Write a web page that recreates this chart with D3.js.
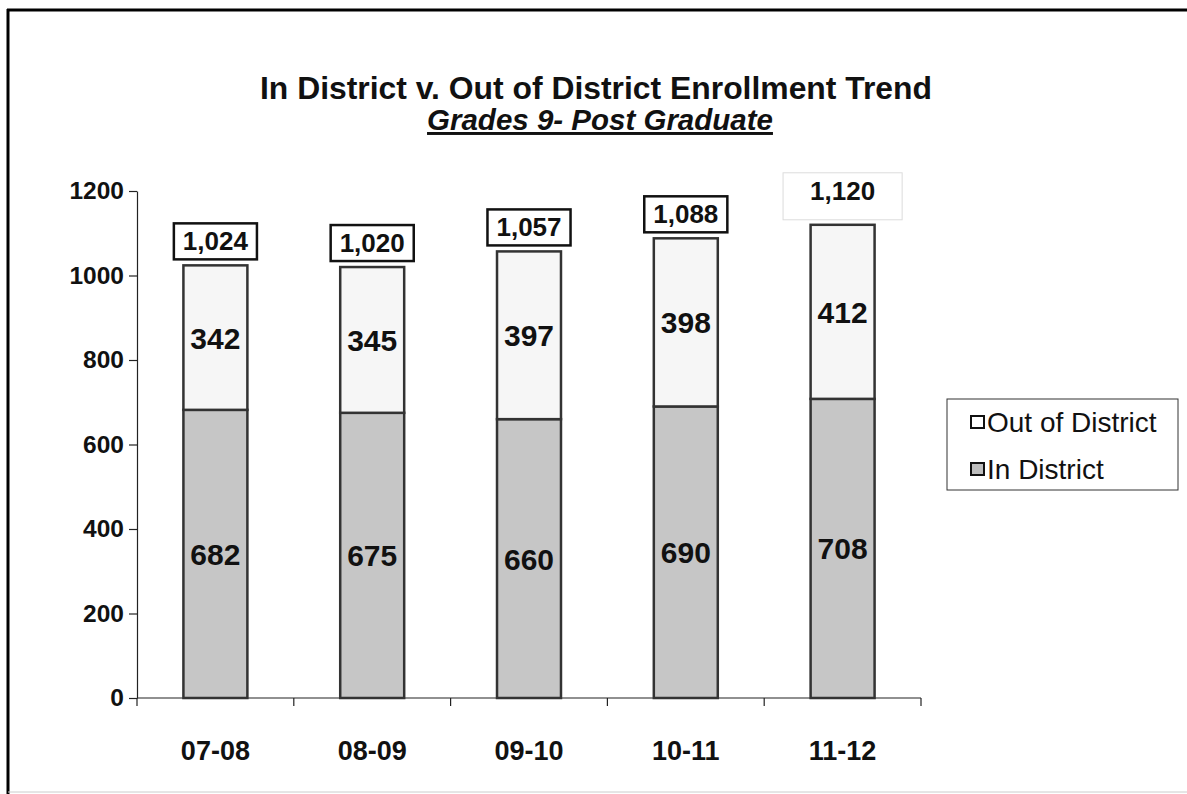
<!DOCTYPE html>
<html>
<head>
<meta charset="utf-8">
<script src="https://cdn.jsdelivr.net/npm/d3@7"></script>
<style>
  html, body { margin: 0; padding: 0; background: #fff; }
  svg { display: block; }
  text { font-family: "Liberation Sans", Arial, Helvetica, sans-serif; }
</style>
</head>
<body>
<svg id="chart" width="1187" height="794"></svg>
<script>
const categories = ["07-08", "08-09", "09-10", "10-11", "11-12"];
const inDistrict = [682, 675, 660, 690, 708];
const outDistrict = [342, 345, 397, 398, 412];
const totals = [1024, 1020, 1057, 1088, 1120];
const yTicks = [0, 200, 400, 600, 800, 1000, 1200];
const seriesNames = ["Out of District", "In District"];

const svg = d3.select("#chart");
const W = 1187, H = 794;

// outer frame
svg.append("line").attr("x1", 8).attr("y1", 9).attr("x2", 8).attr("y2", H).attr("stroke", "#000").attr("stroke-width", 3);
svg.append("line").attr("x1", 7).attr("y1", 10).attr("x2", W).attr("y2", 10).attr("stroke", "#000").attr("stroke-width", 3);
svg.append("line").attr("x1", 8).attr("y1", 792).attr("x2", W).attr("y2", 792).attr("stroke", "#ccc").attr("stroke-width", 1);

// titles
svg.append("text").attr("x", 596).attr("y", 99).attr("text-anchor", "middle")
  .attr("font-size", 31.5).attr("font-weight", "bold").attr("fill", "#111")
  .attr("textLength", 672).attr("lengthAdjust", "spacingAndGlyphs")
  .text("In District v. Out of District Enrollment Trend");
svg.append("text").attr("x", 600).attr("y", 130).attr("text-anchor", "middle")
  .attr("font-size", 29.5).attr("font-weight", "bold").attr("font-style", "italic")
  .attr("text-decoration", "underline").attr("fill", "#111")
  .text("Grades 9- Post Graduate");

const x = d3.scaleBand().domain(categories).range([137, 921]).paddingInner(0.592).paddingOuter(0.296);
const y = d3.scaleLinear().domain([0, 1200]).range([698, 191]);

// y axis
const yAxis = d3.axisLeft(y).tickValues(yTicks).tickSize(8).tickSizeOuter(0).tickPadding(5).tickFormat(d3.format("d"));
const gy = svg.append("g").attr("transform", "translate(137,0)").call(yAxis);
gy.select(".domain").attr("stroke", "#222").attr("stroke-width", 1.2);
gy.selectAll(".tick line").attr("stroke", "#222").attr("stroke-width", 1.2);
gy.selectAll(".tick text").attr("font-size", 24.5).attr("font-weight", "bold").attr("fill", "#111")
  .style("font-family", '"Liberation Sans", Arial, sans-serif');

// x axis
const xAxis = d3.axisBottom(x).tickSize(0).tickPadding(43);
const gx = svg.append("g").attr("transform", "translate(0,698)").call(xAxis);
gx.select(".domain").attr("stroke", "#222").attr("stroke-width", 1.2).attr("d", "M137,0H921");
gx.selectAll(".tick text").attr("font-size", 27).attr("font-weight", "bold").attr("fill", "#111")
  .style("font-family", '"Liberation Sans", Arial, sans-serif');
const gap = (x.step() - x.bandwidth()) / 2;
const sepPositions = categories.map(c => x(c) - gap).concat([x(categories[categories.length - 1]) + x.bandwidth() + gap]);
svg.append("g").selectAll("line").data(sepPositions).join("line")
  .attr("x1", d => d).attr("x2", d => d).attr("y1", 698).attr("y2", 706)
  .attr("stroke", "#222").attr("stroke-width", 1.2);

// bars
const inFill = "#c6c6c6", outFill = "#f6f6f6", barStroke = "#333";
const bars = svg.append("g");
bars.selectAll("rect.in").data(categories).join("rect").attr("class", "in")
  .attr("x", d => x(d)).attr("width", x.bandwidth())
  .attr("y", (d, i) => y(inDistrict[i])).attr("height", (d, i) => y(0) - y(inDistrict[i]))
  .attr("fill", inFill).attr("stroke", barStroke).attr("stroke-width", 2.5);
bars.selectAll("rect.out").data(categories).join("rect").attr("class", "out")
  .attr("x", d => x(d)).attr("width", x.bandwidth())
  .attr("y", (d, i) => y(inDistrict[i] + outDistrict[i])).attr("height", (d, i) => y(inDistrict[i]) - y(inDistrict[i] + outDistrict[i]))
  .attr("fill", outFill).attr("stroke", barStroke).attr("stroke-width", 2.5);

// value labels
const lbl = svg.append("g").attr("font-size", 30).attr("font-weight", "bold").attr("fill", "#111").attr("text-anchor", "middle");
lbl.selectAll("text.in").data(categories).join("text")
  .attr("x", d => x(d) + x.bandwidth() / 2)
  .attr("y", (d, i) => y(inDistrict[i] / 2) + 11)
  .text((d, i) => inDistrict[i]);
lbl.selectAll("text.out").data(categories).join("text")
  .attr("x", d => x(d) + x.bandwidth() / 2)
  .attr("y", (d, i) => y(inDistrict[i] + outDistrict[i] / 2) + 11)
  .text((d, i) => outDistrict[i]);

// total labels with boxes
const fmt = d3.format(",");
const tg = svg.append("g");
categories.forEach((c, i) => {
  const cx = x(c) + x.bandwidth() / 2;
  const last = i === categories.length - 1;
  const bottom = y(totals[i]) - (last ? 5 : 6);
  const bh = last ? 47 : 36;
  const g = tg.append("g");
  const t = g.append("text").attr("x", cx).attr("y", last ? bottom - 20 : bottom - 9).attr("text-anchor", "middle")
    .attr("font-size", 26).attr("font-weight", "bold").attr("fill", "#111").text(fmt(totals[i]));
  const bw = t.node().getComputedTextLength();
  const padX = last ? 27 : 9;
  g.insert("rect", "text").attr("x", cx - bw / 2 - padX).attr("y", bottom - bh)
    .attr("width", bw + 2 * padX).attr("height", bh)
    .attr("fill", "#fff").attr("stroke", last ? "#dcdcdc" : "#111").attr("stroke-width", last ? 1 : 2.5);
});

// legend
const lg = svg.append("g");
lg.append("rect").attr("x", 947).attr("y", 399).attr("width", 231).attr("height", 91)
  .attr("fill", "#fff").attr("stroke", "#333").attr("stroke-width", 1);
seriesNames.forEach((n, i) => {
  const yy = 416 + i * 47;
  lg.append("rect").attr("x", 971).attr("y", yy).attr("width", 13).attr("height", 12)
    .attr("fill", i === 0 ? "#fff" : "#bdbdbd").attr("stroke", "#111").attr("stroke-width", 2);
  lg.append("text").attr("x", 987).attr("y", yy + 16).attr("font-size", 28).attr("fill", "#111").text(n);
});
</script>
</body>
</html>
